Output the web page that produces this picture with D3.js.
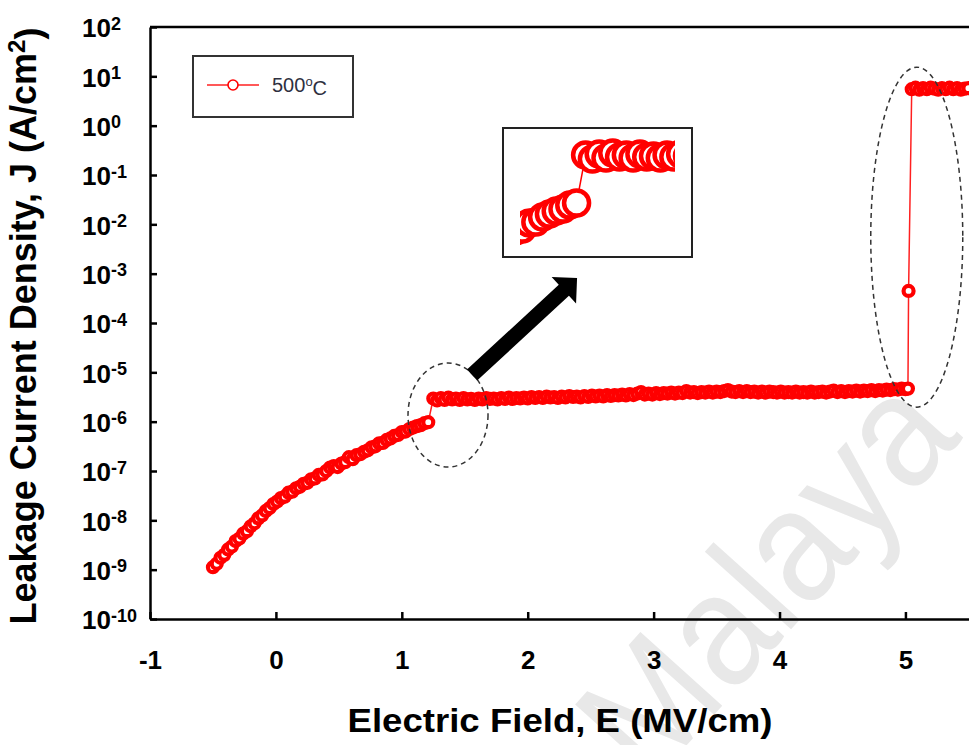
<!DOCTYPE html>
<html lang="en">
<head>
<meta charset="utf-8">
<title>Leakage current density vs electric field</title>
<script src="https://d3js.org/d3.v7.min.js"></script>
<style>
  body { margin: 0; background: #fff; }
  svg { display: block; font-family: "Liberation Sans", Arial, sans-serif; }
  .axis path, .axis line { stroke: #000; stroke-width: 2.5; }
  .axis text { font-weight: bold; fill: #000; font-family: "Liberation Sans", Arial, sans-serif; }
</style>
</head>
<body>
<svg id="chart" width="969" height="745"></svg>
<script>
// data: E in MV/cm, J stored as log10(A/cm2)
var E_LOW = [-0.50,-0.47,-0.44,-0.41,-0.38,-0.35,-0.32,-0.29,-0.26,-0.23,
  -0.20,-0.17,-0.14,-0.11,-0.08,-0.05,-0.02,0.01,0.04,0.07,
  0.10,0.13,0.16,0.19,0.22,0.25,0.28,0.31,0.34,0.37,
  0.40,0.43,0.46,0.49,0.52,0.55,0.58,0.61,0.64,0.67,
  0.70,0.73,0.76,0.79,0.82,0.85,0.88,0.91,0.94,0.97,
  1.00,1.03,1.06,1.09,1.12,1.15,1.18,1.21];
var LOGJ_LOW = [-8.95,-8.88,-8.76,-8.70,-8.59,-8.53,-8.42,-8.37,-8.27,-8.22,
  -8.12,-8.06,-7.96,-7.90,-7.81,-7.75,-7.67,-7.62,-7.55,-7.52,
  -7.44,-7.42,-7.35,-7.32,-7.26,-7.24,-7.17,-7.15,-7.08,-7.07,
  -7.00,-6.93,-6.90,-6.92,-6.85,-6.82,-6.72,-6.76,-6.68,-6.66,
  -6.61,-6.58,-6.52,-6.50,-6.44,-6.43,-6.37,-6.34,-6.29,-6.27,
  -6.21,-6.20,-6.15,-6.12,-6.09,-6.07,-6.03,-6.01];

var E_UP = [1.25,1.28,1.31,1.34,1.37,1.40,1.43,1.46,1.49,1.52,
  1.55,1.58,1.61,1.64,1.67,1.70,1.73,1.76,1.79,1.82,
  1.85,1.88,1.91,1.94,1.97,2.00,2.03,2.06,2.09,2.12,
  2.15,2.18,2.21,2.24,2.27,2.30,2.33,2.36,2.39,2.42,
  2.45,2.48,2.51,2.54,2.57,2.60,2.63,2.66,2.69,2.72,
  2.75,2.78,2.81,2.84,2.87,2.90,2.93,2.96,2.99,3.02,
  3.05,3.08,3.11,3.14,3.17,3.20,3.23,3.26,3.29,3.32,
  3.35,3.38,3.41,3.44,3.47,3.50,3.53,3.56,3.59,3.62,
  3.65,3.68,3.71,3.74,3.77,3.80,3.83,3.86,3.89,3.92,
  3.95,3.98,4.01,4.04,4.07,4.10,4.13,4.16,4.19,4.22,
  4.25,4.28,4.31,4.34,4.37,4.40,4.43,4.46,4.49,4.52,
  4.55,4.58,4.61,4.64,4.67,4.70,4.73,4.76,4.79,4.82,
  4.85,4.88,4.91,4.94,4.97,5.00,5.02];
var LOGJ_UP = [-5.53,-5.57,-5.52,-5.56,-5.51,-5.55,-5.53,-5.56,-5.52,-5.55,
  -5.54,-5.56,-5.53,-5.55,-5.52,-5.54,-5.53,-5.55,-5.52,-5.54,
  -5.51,-5.54,-5.52,-5.53,-5.51,-5.53,-5.50,-5.52,-5.50,-5.52,
  -5.49,-5.51,-5.50,-5.52,-5.49,-5.51,-5.48,-5.50,-5.49,-5.51,
  -5.48,-5.50,-5.47,-5.49,-5.47,-5.49,-5.46,-5.48,-5.46,-5.47,
  -5.45,-5.47,-5.44,-5.46,-5.43,-5.40,-5.45,-5.43,-5.45,-5.42,
  -5.44,-5.42,-5.43,-5.41,-5.43,-5.41,-5.42,-5.38,-5.41,-5.40,
  -5.42,-5.40,-5.41,-5.39,-5.41,-5.39,-5.40,-5.38,-5.36,-5.39,
  -5.40,-5.38,-5.40,-5.38,-5.40,-5.39,-5.41,-5.39,-5.41,-5.39,
  -5.40,-5.41,-5.39,-5.41,-5.40,-5.41,-5.39,-5.41,-5.40,-5.41,
  -5.39,-5.41,-5.40,-5.39,-5.41,-5.39,-5.37,-5.40,-5.38,-5.40,
  -5.38,-5.39,-5.37,-5.39,-5.37,-5.38,-5.36,-5.38,-5.36,-5.37,
  -5.35,-5.36,-5.34,-5.35,-5.33,-5.34,-5.33];

var E_JUMP = [5.025];
var LOGJ_JUMP = [-3.35];

var E_TOP = [5.05,5.08,5.11,5.14,5.17,5.20,5.23,5.26,5.29,5.32,5.35,5.38,5.41,5.44,5.47,5.50];
var LOGJ_TOP = [0.74,0.77,0.73,0.76,0.74,0.77,0.75,0.73,0.76,0.74,0.77,0.74,0.76,0.73,0.75,0.76];

var X_TICKS = [-1, 0, 1, 2, 3, 4, 5];
var Y_EXPONENTS = [2, 1, 0, -1, -2, -3, -4, -5, -6, -7, -8, -9, -10];
var SERIES_NAME = "500";

// build point list in measurement order
var points = [];
function addSeg(es, ls) {
  es.forEach(function(e, i) { points.push({E: e, J: Math.pow(10, ls[i])}); });
}
addSeg(E_LOW, LOGJ_LOW);
addSeg(E_UP, LOGJ_UP);
addSeg(E_JUMP, LOGJ_JUMP);
addSeg(E_TOP, LOGJ_TOP);

var svg = d3.select("#chart");
var plotLeft = 150, plotTop = 27, plotBottom = 619, plotRight = 969;

var x = d3.scaleLinear().domain([-1, 5.52]).range([150, 970.9]);
var y = d3.scaleLog().domain([1e-10, 1e2]).range([619, 27]);

// watermark
svg.append("text")
  .attr("transform", "translate(649,787) rotate(-48)")
  .attr("textLength", 470).attr("lengthAdjust", "spacingAndGlyphs")
  .style("font-size", "160px")
  .style("fill", "#e8e8e8")
  .text("Malaya");

// frame top line
svg.append("line")
  .attr("x1", plotLeft).attr("x2", plotRight)
  .attr("y1", plotTop).attr("y2", plotTop)
  .attr("stroke", "#000").attr("stroke-width", 2.5);

// x axis
var xAxis = svg.append("g")
  .attr("class", "axis")
  .attr("transform", "translate(0," + plotBottom + ")")
  .call(d3.axisBottom(x).tickValues(X_TICKS).tickSizeInner(-7).tickSizeOuter(0).tickPadding(32)
    .tickFormat(function(d) { return String(d); }));
xAxis.selectAll("text").style("font-size", "26px");

// y axis
var yAxis = svg.append("g")
  .attr("class", "axis")
  .attr("transform", "translate(" + plotLeft + ",0)")
  .call(d3.axisLeft(y).tickValues(Y_EXPONENTS.map(function(p) { return Math.pow(10, p); }))
    .tickSizeInner(-7).tickSizeOuter(0).tickFormat(""));
yAxis.selectAll(".tick text").each(function(d) {
  var p = Math.round(Math.log10(d));
  var t = d3.select(this)
    .attr("x", -68).attr("dy", "0.38em")
    .style("text-anchor", "start")
    .style("font-size", "26px");
  t.text(null);
  t.append("tspan").text("10");
  t.append("tspan").attr("dy", "-0.42em").style("font-size", "18px").text(p);
});

// axis titles
svg.append("text")
  .attr("x", 560).attr("y", 732)
  .attr("textLength", 425).attr("lengthAdjust", "spacingAndGlyphs")
  .style("text-anchor", "middle")
  .style("font-weight", "bold").style("font-size", "33px")
  .text("Electric Field, E (MV/cm)");

var yl = svg.append("text")
  .attr("transform", "translate(36,326) rotate(-90)")
  .style("text-anchor", "middle")
  .style("font-weight", "bold").style("font-size", "36px");
yl.append("tspan").text("Leakage Current Density, J (A/cm");
yl.append("tspan").attr("dy", "-0.45em").style("font-size", "24px").text("2");
yl.append("tspan").attr("dy", "0.45em").text(")");

// clip for data
var defs = svg.append("defs");
defs.append("clipPath").attr("id", "plotclip").append("rect")
  .attr("x", plotLeft).attr("y", plotTop)
  .attr("width", plotRight - plotLeft).attr("height", plotBottom - plotTop);

var line = d3.line().x(function(d) { return x(d.E); }).y(function(d) { return y(d.J); });
var plot = svg.append("g").attr("clip-path", "url(#plotclip)");
plot.append("path").datum(points)
  .attr("d", line).attr("fill", "none").attr("stroke", "#ff2020").attr("stroke-width", 1.5);
plot.selectAll("circle.pt").data(points).enter().append("circle")
  .attr("class", "pt")
  .attr("cx", function(d) { return x(d.E); })
  .attr("cy", function(d) { return y(d.J); })
  .attr("r", 5)
  .attr("fill", "#fff").attr("stroke", "#ff0000").attr("stroke-width", 4.2);

// dashed ellipses
svg.append("ellipse")
  .attr("cx", x(1.367)).attr("cy", y(Math.pow(10, -5.865)))
  .attr("rx", 40).attr("ry", 52)
  .attr("fill", "none").attr("stroke", "#333").attr("stroke-width", 1.5).attr("stroke-dasharray", "5,4");
svg.append("ellipse")
  .attr("cx", x(5.09)).attr("cy", y(Math.pow(10, -2.26)))
  .attr("rx", 46).attr("ry", 170)
  .attr("fill", "none").attr("stroke", "#333").attr("stroke-width", 1.5).attr("stroke-dasharray", "5,4");

// arrow towards the inset
var tail = [x(1.558), y(Math.pow(10, -5.055))];
var tip = [x(2.392), y(Math.pow(10, -3.088))];
var dx = tip[0] - tail[0], dy = tip[1] - tail[1], len = Math.sqrt(dx * dx + dy * dy);
var ux = dx / len, uy = dy / len, px = -uy, py = ux;
var w = 7.5, hw = 18, hl = 18;
var bx = tip[0] - hl * ux, by = tip[1] - hl * uy;
var arrowPts = [
  [tail[0] + w * px, tail[1] + w * py], [bx + w * px, by + w * py], [bx + hw * px, by + hw * py],
  tip, [bx - hw * px, by - hw * py], [bx - w * px, by - w * py], [tail[0] - w * px, tail[1] - w * py]
];
svg.append("polygon").attr("points", arrowPts.map(function(p) { return p.join(","); }).join(" ")).attr("fill", "#000");

// inset (magnified view of the step near 1.2 MV/cm)
svg.append("rect").attr("x", 503).attr("y", 128).attr("width", 189).attr("height", 129)
  .attr("fill", "#fff").attr("stroke", "#222").attr("stroke-width", 2);
defs.append("clipPath").attr("id", "insetclip").append("rect")
  .attr("x", 520).attr("y", 136).attr("width", 155).attr("height", 109);
var xi = d3.scaleLinear().domain([0.96, 1.645]).range([520, 675]);
var yi = d3.scaleLog().domain([Math.pow(10, -6.43), Math.pow(10, -5.34)]).range([245, 136]);
var inset = svg.append("g").attr("clip-path", "url(#insetclip)");
var insetPts = points.filter(function(d) { return d.E > 0.85 && d.E < 1.8; });
inset.append("path").datum(insetPts)
  .attr("d", d3.line().x(function(d) { return xi(d.E); }).y(function(d) { return yi(d.J); }))
  .attr("fill", "none").attr("stroke", "#ff0000").attr("stroke-width", 1.5);
inset.selectAll("circle").data(insetPts).enter().append("circle")
  .attr("cx", function(d) { return xi(d.E); })
  .attr("cy", function(d) { return yi(d.J); })
  .attr("r", 12.5)
  .attr("fill", "#fff").attr("stroke", "#ff0000").attr("stroke-width", 4.5);

// legend
var lg = svg.append("g");
lg.append("rect").attr("x", 193).attr("y", 56).attr("width", 160).attr("height", 61)
  .attr("fill", "#fff").attr("stroke", "#333").attr("stroke-width", 2);
lg.append("line").attr("x1", 207).attr("x2", 259).attr("y1", 85).attr("y2", 85)
  .attr("stroke", "#ff2020").attr("stroke-width", 1.5);
lg.append("circle").attr("cx", 233).attr("cy", 85).attr("r", 5)
  .attr("fill", "#fff").attr("stroke", "#ff0000").attr("stroke-width", 1.6);
var lt = lg.append("text").attr("x", 272).attr("y", 92)
  .style("font-size", "20px").style("fill", "#2e3040");
lt.append("tspan").text(SERIES_NAME);
lt.append("tspan").attr("dy", "-0.45em").style("font-size", "13px").text("o");
lt.append("tspan").attr("dy", "0.45em").text("C");
</script>
</body>
</html>
